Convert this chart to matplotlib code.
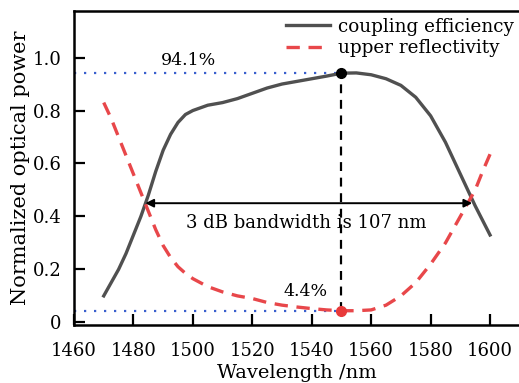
import matplotlib
matplotlib.use("Agg")
import matplotlib.pyplot as plt
import numpy as np

plt.rcParams['font.family'] = ['DejaVu Serif']
plt.rcParams['mathtext.fontset'] = 'dejavuserif'

# wavelength grid (nm)
wl = [1470, 1472.5, 1475, 1477.5, 1480, 1482.5, 1485, 1487.5, 1490, 1492.5, 1495,
      1497.5, 1500, 1505, 1510, 1515, 1520, 1525, 1530, 1535, 1540, 1545, 1550,
      1555, 1560, 1565, 1570, 1575, 1580, 1585, 1590, 1592.5, 1595, 1597.5, 1600]

# simulated coupling efficiency
coupling = [0.10, 0.15, 0.20, 0.26, 0.33, 0.40, 0.48, 0.57, 0.65, 0.71, 0.755,
            0.785, 0.80, 0.82, 0.83, 0.845, 0.865, 0.885, 0.90, 0.91, 0.92, 0.93, 0.941,
            0.942, 0.935, 0.92, 0.895, 0.85, 0.78, 0.68, 0.56, 0.50, 0.44, 0.385, 0.33]

# upper reflectivity of the grating
reflect = [0.83, 0.77, 0.70, 0.63, 0.56, 0.49, 0.42, 0.35, 0.29, 0.245, 0.21,
           0.185, 0.165, 0.135, 0.115, 0.10, 0.09, 0.075, 0.065, 0.058, 0.052, 0.047, 0.044,
           0.044, 0.047, 0.065, 0.10, 0.15, 0.22, 0.30, 0.40, 0.45, 0.50, 0.57, 0.635]

peak_wl = 1550
peak_eff = 0.941
min_ref = 0.044
bw_left = 1484
bw_right = 1594
bw_level = 0.45

fig = plt.figure(figsize=(5.19, 3.83), dpi=100)
ax = fig.add_axes([0.1426, 0.1514, 0.86, 0.82])

ax.plot(wl, coupling, color='#505050', lw=2.4, label='coupling efficiency', zorder=3)
ax.plot(wl, reflect, color='#e8474a', lw=2.4, ls=(0, (4, 2.6)), label='upper reflectivity', zorder=3)

# guide lines to the peak and the minimum
ax.plot([1460, peak_wl], [peak_eff, peak_eff], color='#3a5fcd', lw=1.6, ls=(0, (1, 3.5)), zorder=2)
ax.plot([1460, peak_wl], [min_ref, min_ref], color='#3a5fcd', lw=1.6, ls=(0, (1, 3.5)), zorder=2)
ax.plot([peak_wl, peak_wl], [min_ref, peak_eff], color='black', lw=1.6, ls=(0, (4, 3)), zorder=2)
ax.plot(peak_wl, peak_eff, 'o', color='black', ms=7, zorder=5)
ax.plot(peak_wl, min_ref, 'o', color='#e83a3a', ms=7, zorder=5)

ax.annotate('', xy=(bw_left, bw_level), xytext=(bw_right, bw_level),
            arrowprops=dict(arrowstyle='<|-|>', color='black', lw=1.4,
                            mutation_scale=12, shrinkA=0, shrinkB=0), zorder=4)
ax.text(1538, 0.375, '3 dB bandwidth is 107 nm', fontsize=13, ha='center', va='center')
ax.text(1498.5, 0.99, '94.1%', fontsize=12.5, ha='center', va='center')
ax.text(1538, 0.115, '4.4%', fontsize=12.5, ha='center', va='center')

ax.set_xlim(1460, 1610.2)
ax.set_ylim(-0.01, 1.176)
ax.set_xticks(np.arange(1460, 1601, 20))
ax.set_yticks([0, 0.2, 0.4, 0.6, 0.8, 1.0])
ax.set_yticklabels(['0', '0.2', '0.4', '0.6', '0.8', '1.0'])
ax.tick_params(direction='in', length=8, width=1.6, labelsize=13)
ax.tick_params(axis='x', pad=12)
ax.tick_params(axis='y', pad=9)
for s in ax.spines.values():
    s.set_linewidth(1.8)

ax.set_xlabel('Wavelength /nm', fontsize=14, labelpad=3)
ax.set_ylabel('Normalized optical power', fontsize=15, labelpad=2)

leg = ax.legend(loc='upper right', frameon=False, fontsize=13.2, handlelength=2.4,
                borderaxespad=0.1, labelspacing=0.2, handletextpad=0.4,
                bbox_to_anchor=(1.005, 1.008))

fig.savefig('out.png', dpi=100)
